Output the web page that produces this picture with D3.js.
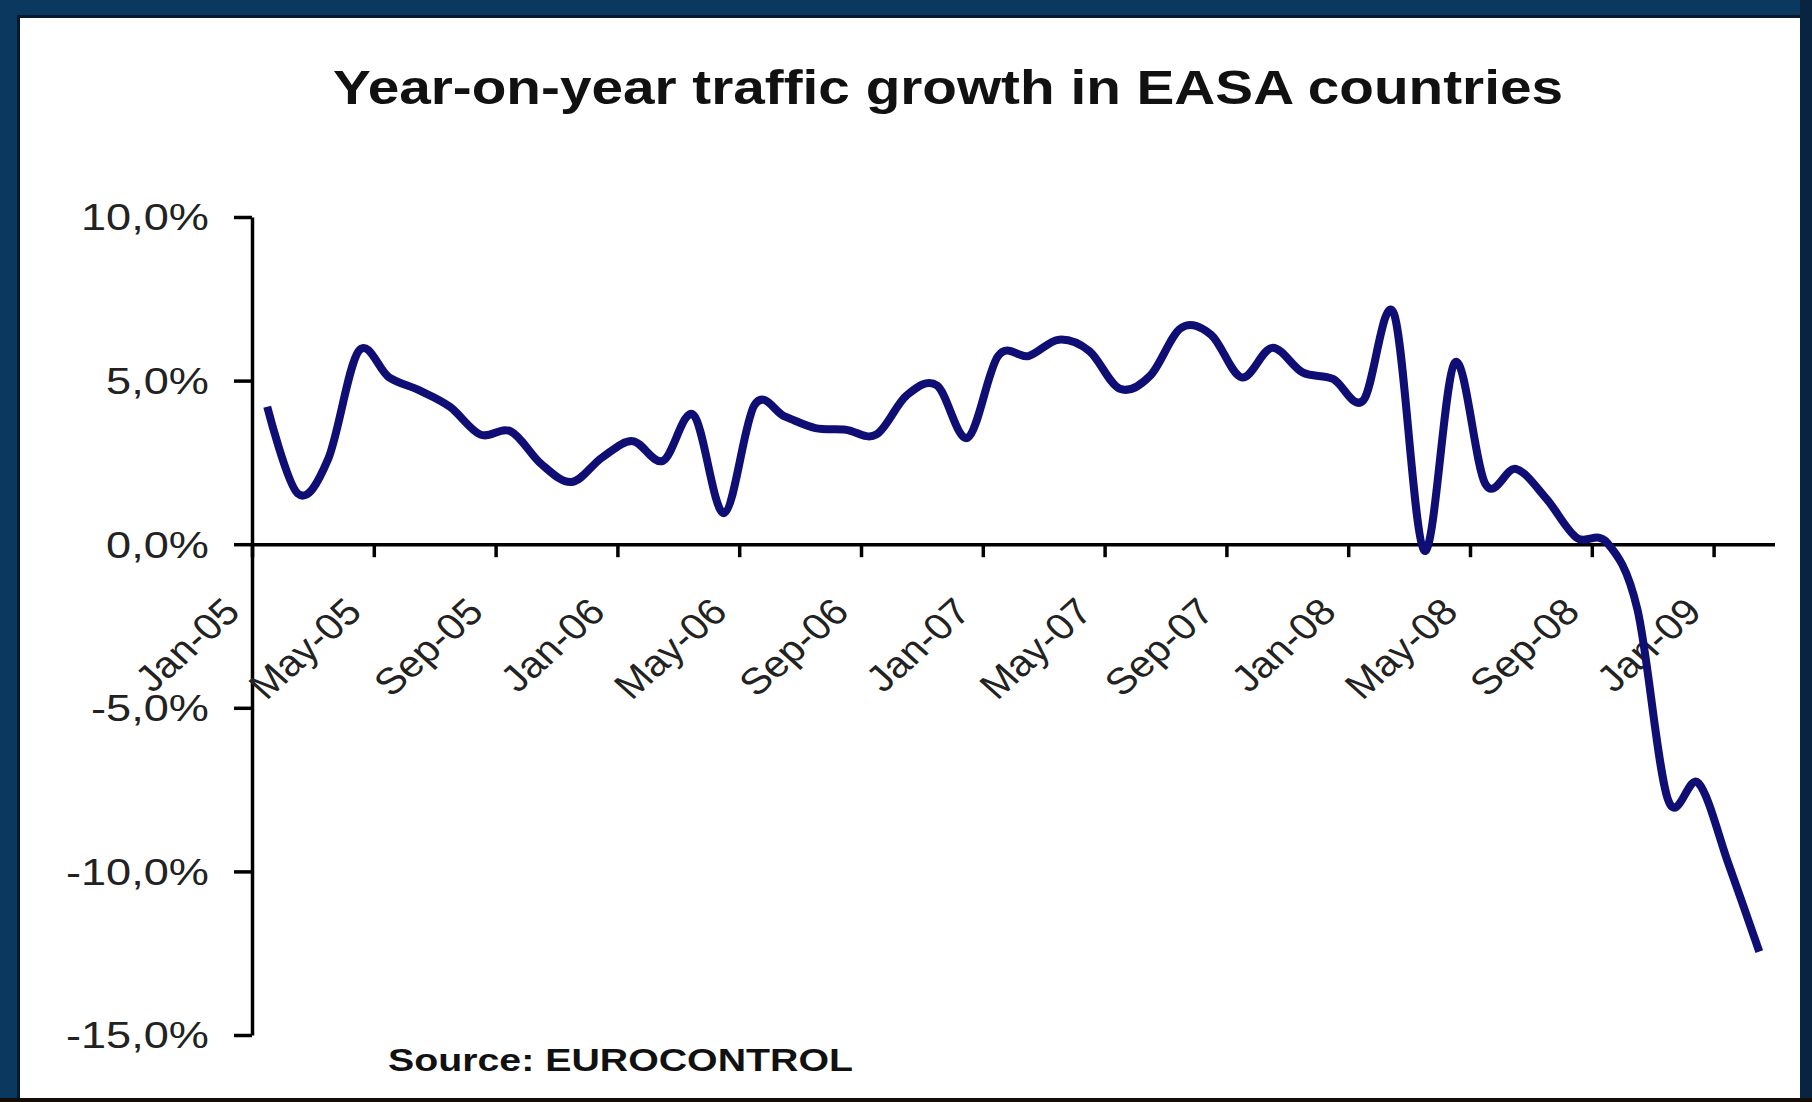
<!DOCTYPE html>
<html><head><meta charset="utf-8">
<script src="https://cdn.jsdelivr.net/npm/d3@7/dist/d3.min.js"></script>
<style>html,body{margin:0;padding:0;background:#0b385e;overflow:hidden}</style>
</head><body>
<svg id="c" width="1812" height="1102"></svg>
<script>
const months = ["Jan-05","Feb-05","Mar-05","Apr-05","May-05","Jun-05","Jul-05","Aug-05","Sep-05","Oct-05","Nov-05","Dec-05",
  "Jan-06","Feb-06","Mar-06","Apr-06","May-06","Jun-06","Jul-06","Aug-06","Sep-06","Oct-06","Nov-06","Dec-06",
  "Jan-07","Feb-07","Mar-07","Apr-07","May-07","Jun-07","Jul-07","Aug-07","Sep-07","Oct-07","Nov-07","Dec-07",
  "Jan-08","Feb-08","Mar-08","Apr-08","May-08","Jun-08","Jul-08","Aug-08","Sep-08","Oct-08","Nov-08","Dec-08",
  "Jan-09","Feb-09"];
const growth = [4.2,1.55,2.6,5.9,5.1,4.7,4.2,3.35,3.45,2.45,1.9,2.65,
  3.15,2.55,3.95,0.95,4.25,3.9,3.55,3.5,3.35,4.55,4.85,3.25,
  5.75,5.75,6.25,5.9,4.75,5.15,6.6,6.4,5.1,6.0,5.25,5.05,
  4.4,7.05,-0.2,5.55,1.85,2.3,1.4,0.2,0.05,-2.0,-7.8,-7.3,
  -9.8,-12.45];
const xTickLabels = ["Jan-05","May-05","Sep-05","Jan-06","May-06","Sep-06","Jan-07","May-07","Sep-07","Jan-08","May-08","Sep-08","Jan-09"];
const yTicks = [10,5,0,-5,-10,-15];
const yTickLabels = ["10,0%","5,0%","0,0%","-5,0%","-10,0%","-15,0%"];
const titleText = "Year-on-year traffic growth in EASA countries";
const sourceText = "Source: EUROCONTROL";

const svg = d3.select("#c");
const FONT = "'Liberation Sans', Arial, sans-serif";

// frame
svg.append("rect").attr("x",0).attr("y",0).attr("width",1812).attr("height",1102).attr("fill","#0b385e");
svg.append("rect").attr("x",1800).attr("y",0).attr("width",12).attr("height",1102).attr("fill","#082440");
svg.append("rect").attr("x",17).attr("y",15).attr("width",1783).attr("height",1085).attr("fill","#061a2e");
svg.append("rect").attr("x",20).attr("y",18).attr("width",1780).attr("height",1080).attr("fill","#ffffff");
svg.append("rect").attr("x",0).attr("y",1098).attr("width",1812).attr("height",4).attr("fill","#150c05");

// scales
const x = d3.scaleLinear().domain([0, months.length]).range([252, 1774.5]);
const y = d3.scaleLinear().domain([-15, 10]).range([1035, 217]);

// title
svg.append("text").attr("x",333).attr("y",103.5)
  .attr("font-family",FONT).attr("font-weight","bold").attr("font-size",49)
  .attr("fill","#111").attr("textLength",1230).attr("lengthAdjust","spacingAndGlyphs")
  .text(titleText);

// y axis
const yAxis = svg.append("g").attr("transform","translate(252,0)")
  .call(d3.axisLeft(y).tickValues(yTicks).tickSize(18).tickSizeOuter(0).tickFormat(""));
yAxis.selectAll("path,line").attr("stroke","#000").attr("stroke-width",3.5);

svg.append("g").selectAll("g").data(yTicks).join("g")
  .attr("transform",d=>`translate(209,${y(d)}) scale(1.22,1)`)
  .append("text").attr("text-anchor","end").attr("dy","0.36em")
  .attr("font-family",FONT).attr("font-size",37).attr("fill","#222")
  .text((d,i)=>yTickLabels[i]);

// x axis at 0
const xAxis = svg.append("g").attr("transform",`translate(0,${y(0)})`)
  .call(d3.axisBottom(x).tickValues(xTickLabels.map(l=>months.indexOf(l))).tickSize(13).tickSizeOuter(0).tickFormat(""));
xAxis.selectAll("path,line").attr("stroke","#000").attr("stroke-width",3.5);

svg.append("g").selectAll("g").data(xTickLabels).join("g")
  .attr("transform",d=>`translate(${x(months.indexOf(d))-10},614) scale(1.12,1) rotate(-45)`)
  .append("text").attr("text-anchor","end")
  .attr("font-family",FONT).attr("font-size",37).attr("fill","#222")
  .text(d=>d);

// line
const line = d3.line().x((d,i)=>x(i+0.5)).y(d=>y(d)).curve(d3.curveCardinal.tension(0));
svg.append("path").datum(growth).attr("d",line)
  .attr("fill","none").attr("stroke","#0e0e74").attr("stroke-width",8)
  .attr("stroke-linejoin","round");

// source
svg.append("text").attr("x",388).attr("y",1071)
  .attr("font-family",FONT).attr("font-weight","bold").attr("font-size",32)
  .attr("fill","#111").attr("textLength",465).attr("lengthAdjust","spacingAndGlyphs")
  .text(sourceText);
</script>
</body></html>
